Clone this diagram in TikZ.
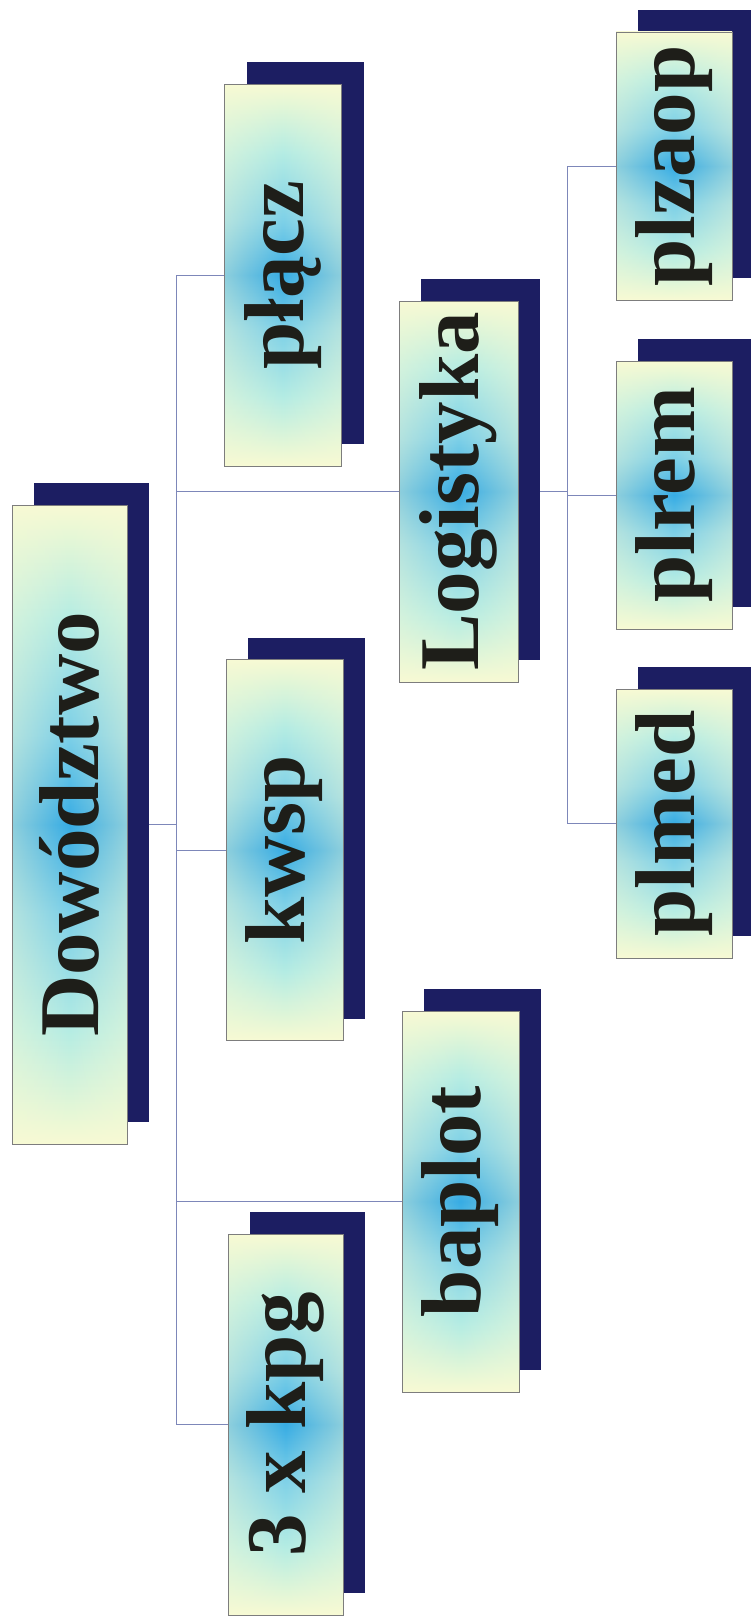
\documentclass[tikz,border=0pt]{standalone}
\usepackage{fontspec}
\setmainfont{Liberation Serif}
\usepackage{graphicx}
\usetikzlibrary{shadows,backgrounds,fadings}
\definecolor{navy}{RGB}{28,30,98}
\definecolor{boxline}{RGB}{125,125,125}
\definecolor{conncol}{RGB}{125,135,185}
\definecolor{txt}{RGB}{30,30,25}
\definecolor{sca}{RGB}{55,172,228}
\definecolor{scb}{RGB}{125,208,232}
\definecolor{scc}{RGB}{180,236,228}
\definecolor{scd}{RGB}{225,246,216}
\definecolor{sce}{RGB}{248,250,212}
\pgfdeclareverticalshading{longshade}{100bp}{color(0bp)=(sce); color(25bp)=(sce); color(28bp)=(scd); color(34bp)=(scc); color(43bp)=(scb); color(50bp)=(sca); color(57bp)=(scb); color(66bp)=(scc); color(72bp)=(scd); color(75bp)=(sce); color(100bp)=(sce)}
\tikzfading[name=sidefade, left color=transparent!55, right color=transparent!55, middle color=transparent!100]
\tikzset{
  box/.style={shading=longshade, inner sep=0pt, outer sep=0pt,
    minimum width=117pt, text=txt, font=\fontsize{85}{95}\selectfont\bfseries,
    drop shadow={shadow xshift=22pt, shadow yshift=22pt, fill=navy, opacity=1, draw=none},
    postaction={fill=sce, path fading=sidefade},
    postaction={draw=boxline, line width=0.6pt}},
  conn/.style={draw=conncol, line width=0.8pt}
}
\begin{document}
\begin{tikzpicture}[x=1pt,y=-1pt]
\useasboundingbox (0,0) rectangle (751,1619);
\clip (0,0) rectangle (751,1619);
\node[box, minimum height=639pt, minimum width=115pt] (dow) at (69.5,824.5) {\rotatebox{90}{Dowództwo}};
\node[box, minimum height=382pt] (placz) at (283,275) {\rotatebox{90}{płącz}};
\node[box, minimum height=381pt] (kwsp) at (284.5,850) {\rotatebox{90}{kwsp}};
\node[box, minimum height=381pt, minimum width=115pt] (kpg) at (285.5,1424.5) {\rotatebox{90}{3 x kpg}};
\node[box, minimum height=381pt, minimum width=119pt] (log) at (458.5,491.5) {\rotatebox{90}{Logistyka}};
\node[box, minimum height=381pt] (baplot) at (460.5,1201.5) {\rotatebox{90}{baplot}};
\node[box, minimum height=268pt, minimum width=116pt] (plzaop) at (674,166) {\rotatebox{90}{plzaop}};
\node[box, minimum height=268pt, minimum width=116pt] (plrem) at (674,495) {\rotatebox{90}{plrem}};
\node[box, minimum height=269pt, minimum width=116pt] (plmed) at (674,823.5) {\rotatebox{90}{plmed}};
\coordinate (trunk) at (176,0);
\coordinate (rtrunk) at (567,0);
\begin{pgfonlayer}{background}
\draw[conn] (placz.center) -- (placz.center -| trunk) -- (kpg.center -| trunk) -- (kpg.center);
\draw[conn] (dow.center) -- (dow.center -| trunk);
\draw[conn] (log.center) -- (log.center -| trunk);
\draw[conn] (kwsp.center) -- (kwsp.center -| trunk);
\draw[conn] (baplot.center) -- (baplot.center -| trunk);
\draw[conn] (plzaop.center) -- (plzaop.center -| rtrunk) -- (plmed.center -| rtrunk) -- (plmed.center);
\draw[conn] (log.center) -- (log.center -| rtrunk);
\draw[conn] (plrem.center) -- (plrem.center -| rtrunk);
\end{pgfonlayer}
\end{tikzpicture}
\end{document}
